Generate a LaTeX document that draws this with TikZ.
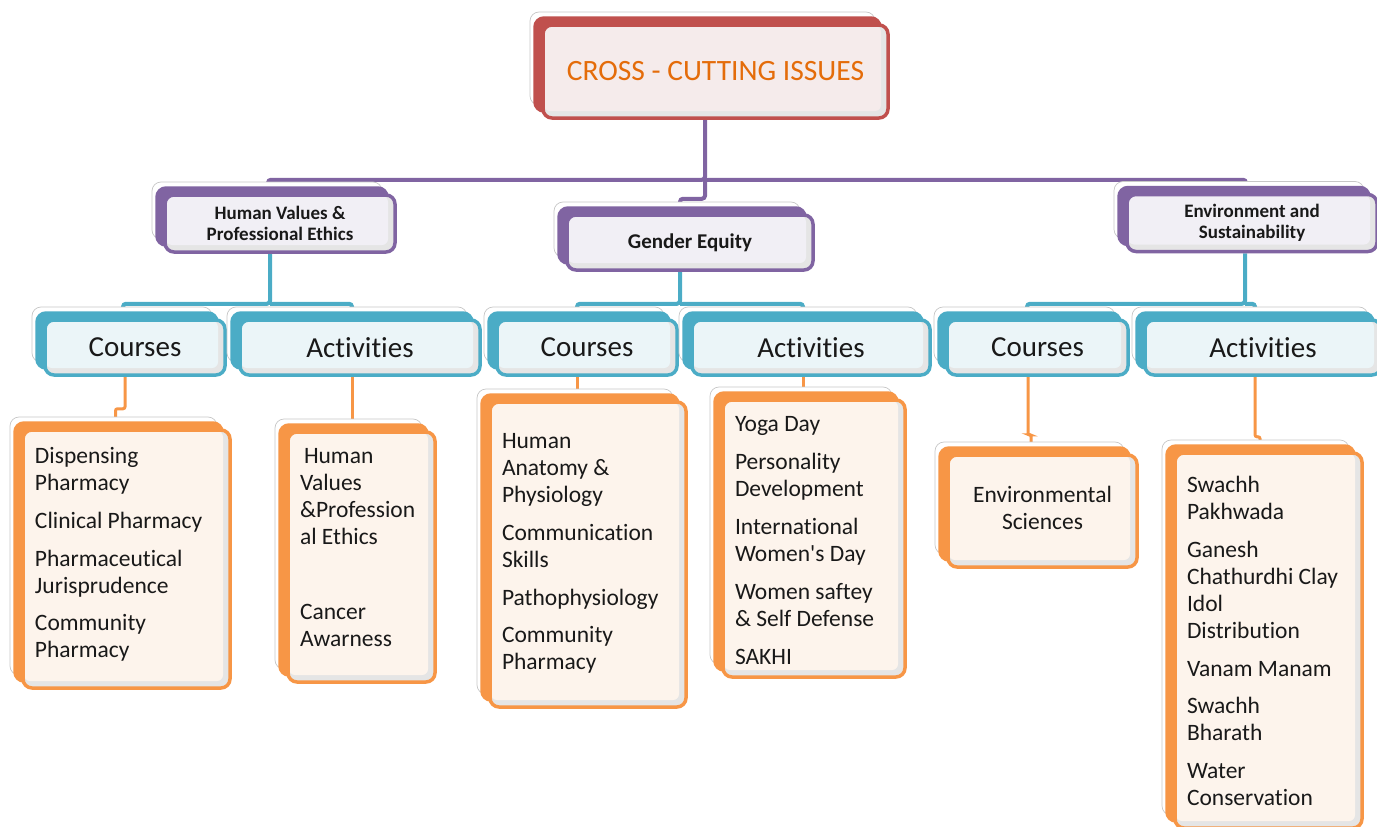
\documentclass[tikz,border=0pt]{standalone}
\usepackage{fontspec}
\setmainfont{Carlito}[Ligatures={NoCommon}]
\usetikzlibrary{shadows, backgrounds}

\definecolor{redbox}{HTML}{C0504D}
\definecolor{purplebox}{HTML}{8064A2}
\definecolor{tealbox}{HTML}{4BACC6}
\definecolor{orangebox}{HTML}{F79646}
\definecolor{titletext}{HTML}{E46C0A}
\definecolor{pinkfill}{HTML}{F5EBEB}
\definecolor{lilacfill}{HTML}{F1EFF5}
\definecolor{icefill}{HTML}{EBF5F8}
\definecolor{creamfill}{HTML}{FDF4EC}

% list text inside an orange card: width, height, top gap, lines
\newcommand{\cardlist}[4]{\parbox[c][#2][t]{#1}{\raggedright\leftskip=12pt\relax\vspace*{#3}#4}}

\tikzset{
  card/.style 2 args={rounded corners=9pt, line width=3.5pt, draw=#1, fill=black!10,
    inner sep=0pt, text=black!90,
    general shadow={fill=white, draw=black!22, line width=0.7pt,
      shadow xshift=-13pt, shadow yshift=13pt},
    general shadow={fill=#1, draw=#1, line width=3.5pt,
      shadow xshift=-8pt, shadow yshift=7pt},
    path picture={\fill[#2, rounded corners=6pt]
      ([shift={(1pt,-1pt)}]path picture bounding box.north west) rectangle
      ([shift={(-7pt,7pt)}]path picture bounding box.south east);}},
  head/.style={card={purplebox}{lilacfill}, align=center,
    font=\fontsize{19}{21}\selectfont\bfseries},
  branch/.style={card={tealbox}{icefill}, minimum height=55pt,
    font=\fontsize{29}{34}\selectfont},
  leaf/.style={card={orangebox}{creamfill}, font=\fontsize{23.5}{27}\selectfont},
  plink/.style={draw=purplebox, line width=4pt, rounded corners=3pt},
  tlink/.style={draw=tealbox, line width=4pt, rounded corners=3pt},
  olink/.style={draw=orangebox, line width=3pt, rounded corners=2pt},
}

\begin{document}
\begin{tikzpicture}[x=1pt, y=-1pt]
\useasboundingbox (0,0) rectangle (1377,827);

\node[card={redbox}{pinkfill}, minimum width=345pt, minimum height=93pt,
  text=titletext, font=\fontsize{29.5}{34}\selectfont] (root) at (715.5,71.5) {CROSS - CUTTING ISSUES};

% second level
\node[head, minimum width=230pt, minimum height=57pt] (HV) at (280,223.5) {Human Values \&\\Professional Ethics};
\node[head, minimum width=246pt, minimum height=55pt, font=\fontsize{21}{24}\selectfont\bfseries] (GE) at (690,242.5) {Gender Equity};
\node[head, minimum width=250pt, minimum height=57pt] (ES) at (1252,223) {Environment and\\Sustainability};

% courses / activities
\node[branch, minimum width=180pt] (C1) at (135,347.5) {Courses};
\node[branch, minimum width=240pt] (A1) at (360,347.5) {Activities};
\node[branch, minimum width=180pt] (C2) at (587,347.5) {Courses};
\node[branch, minimum width=238pt] (A2) at (811,347.5) {Activities};
\node[branch, minimum width=181pt] (C3) at (1037.5,347.5) {Courses};
\node[branch, minimum width=236pt] (A3) at (1263,347.5) {Activities};

% lists
\node[leaf] (L1) at (126.5,559) {\cardlist{207pt}{258pt}{17pt}{Dispensing\\Pharmacy\\[11pt]Clinical Pharmacy\\[11pt]Pharmaceutical\\Jurisprudence\\[10pt]Community\\Pharmacy}};
\node[leaf] (L2) at (361.5,557) {\cardlist{147pt}{250pt}{16pt}{\hspace{4pt}Human\\Values\\\&Profession\\al Ethics\\[48pt]Cancer\\Awarness}};
\node[leaf] (M1) at (588,554.5) {\cardlist{196pt}{305pt}{31pt}{Human\\Anatomy \&\\Physiology\\[11pt]Communication\\Skills\\[11pt]Pathophysiology\\[10pt]Community\\Pharmacy}};
\node[leaf] (M2) at (814,538.5) {\cardlist{182pt}{277pt}{16pt}{Yoga Day\\[11pt]Personality\\Development\\[11pt]International\\Women\textquotesingle s Day\\[11pt]Women saftey\\\& Self Defense\\[11pt]SAKHI}};
\node[leaf] (R1) at (1042.5,511) {\parbox[c][112pt][t]{189pt}{\centering\vspace*{31pt}Environmental\\Sciences}};
\node[leaf] (R2) at (1268.5,640.5) {\cardlist{187pt}{375pt}{23pt}{Swachh\\Pakhwada\\[11pt]Ganesh\\Chathurdhi Clay\\Idol\\Distribution\\[11pt]Vanam Manam\\[10pt]Swachh\\Bharath\\[11pt]Water\\Conservation}};

\begin{scope}[on background layer]
\draw[plink] ([xshift=-10.5pt]root.south) -- ++(0,60) coordinate (pbus) -| ([xshift=-12pt]HV.north);
\draw[plink] (pbus) -| ([xshift=-6pt]ES.north);
\draw[plink] (pbus) -- ++(0,19) -| ([xshift=-10pt]GE.north);

\draw[tlink] ([xshift=-10pt]HV.south) -- ++(0,50) coordinate (hvbus) -| ([xshift=-12pt]C1.north);
\draw[tlink] (hvbus) -| ([xshift=-8pt]A1.north);
\draw[tlink] ([xshift=-10pt]GE.south) -- ++(0,32) coordinate (gebus) -| ([xshift=-10pt]C2.north);
\draw[tlink] (gebus) -| ([xshift=-8pt]A2.north);
\draw[tlink] ([xshift=-7pt]ES.south) -- ++(0,50.5) coordinate (esbus) -| ([xshift=-10.5pt]C3.north);
\draw[tlink] (esbus) -| ([xshift=-8pt]A3.north);

\draw[olink] ([xshift=-10pt]C1.south) -- ++(0,32) -| ([xshift=-11pt]L1.north);
\draw[olink] ([xshift=-8pt]A1.south) -- ++(0,20) -| ([xshift=-9.5pt]L2.north);
\draw[olink] ([xshift=-10pt]C2.south) -- ++(0,6) -| ([xshift=-11pt]M1.north);
\draw[olink] ([xshift=-8pt]A2.south) -- ++(0,6) -| ([xshift=-11pt]M2.north);
\draw[olink] ([xshift=-9.5pt]C3.south) -- ++(0,58) -| ([xshift=-11.5pt]R1.north);
\draw[olink] ([xshift=-8pt]A3.south) -- ++(0,60) -| ([xshift=-8.5pt]R2.north);
\end{scope}
\end{tikzpicture}
\end{document}
